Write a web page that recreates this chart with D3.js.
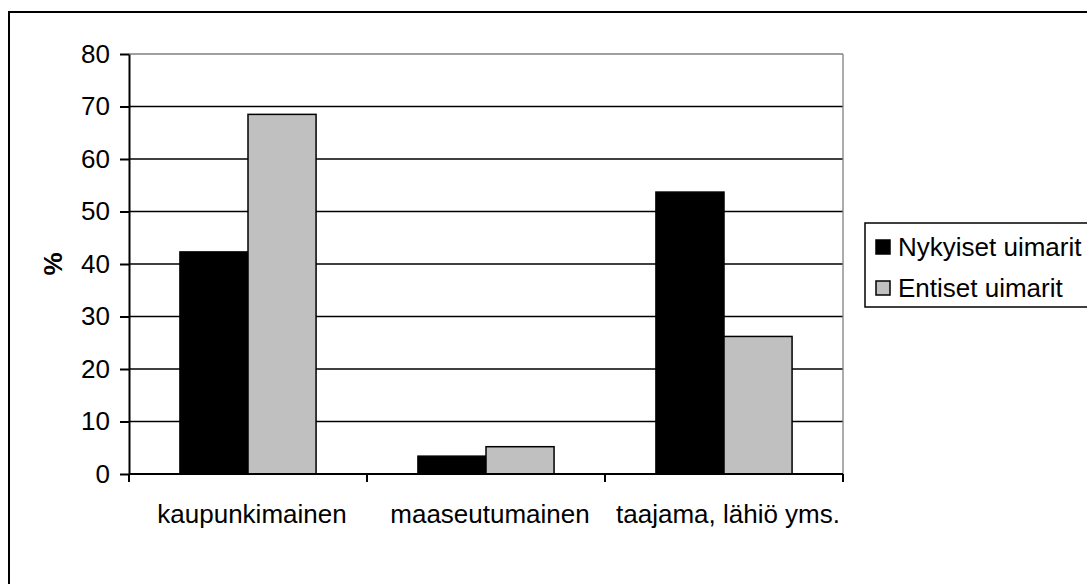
<!DOCTYPE html>
<html>
<head>
<meta charset="utf-8">
<script src="https://cdn.jsdelivr.net/npm/d3@7"></script>
<style>
  html, body { margin: 0; padding: 0; background: #fff; }
  svg { display: block; font-family: "Liberation Sans", Arial, sans-serif; }
</style>
</head>
<body>
<svg id="chart" width="1087" height="584"></svg>
<script>
// Area types and the share (%) of each group of swimmers
const categories = ["kaupunkimainen", "maaseutumainen", "taajama, lähiö yms."];
const seriesNames = ["Nykyiset uimarit", "Entiset uimarit"];
const nykyiset = [42.3, 3.4, 53.7];
const entiset = [68.5, 5.2, 26.2];
const yTicks = [0, 10, 20, 30, 40, 50, 60, 70, 80];
const seriesColors = ["#000000", "#c0c0c0"];

const series = [nykyiset, entiset];

const svg = d3.select("#chart");
const plot = { left: 129, right: 843, top: 54, bottom: 474 };
const fontSize = 26;

// Outer chart frame
svg.append("rect")
  .attr("x", 9).attr("y", 12)
  .attr("width", 1200).attr("height", 700)
  .attr("fill", "none").attr("stroke", "#000").attr("stroke-width", 2);

const x = d3.scaleBand()
  .domain(categories)
  .range([plot.left, plot.right])
  .paddingInner(0.428)
  .paddingOuter(0.214);

const xInner = d3.scaleBand()
  .domain(d3.range(series.length))
  .range([0, x.bandwidth()]);

const y = d3.scaleLinear()
  .domain([0, 80])
  .range([plot.bottom, plot.top]);

// Horizontal gridlines
svg.append("g")
  .selectAll("line")
  .data(yTicks.filter(t => t > 0))
  .join("line")
  .attr("x1", plot.left).attr("x2", plot.right)
  .attr("y1", d => y(d)).attr("y2", d => y(d))
  .attr("stroke", d => d === 80 ? "#808080" : "#000")
  .attr("stroke-width", 1.3);

// Right edge of the plot area
svg.append("line")
  .attr("x1", plot.right).attr("x2", plot.right)
  .attr("y1", plot.top).attr("y2", plot.bottom)
  .attr("stroke", "#808080").attr("stroke-width", 1.3);

// Bars
const groups = svg.append("g")
  .selectAll("g")
  .data(categories)
  .join("g")
  .attr("transform", d => `translate(${x(d)},0)`);

groups.selectAll("rect")
  .data((c, ci) => series.map((s, si) => ({ si, v: s[ci] })))
  .join("rect")
  .attr("x", d => xInner(d.si))
  .attr("width", xInner.bandwidth())
  .attr("y", d => y(d.v))
  .attr("height", d => y(0) - y(d.v))
  .attr("fill", d => seriesColors[d.si])
  .attr("stroke", "#000")
  .attr("stroke-width", 1.5);

// Y axis
const yAxis = svg.append("g")
  .attr("transform", `translate(${plot.left},0)`)
  .call(d3.axisLeft(y).tickValues(yTicks).tickSize(9).tickPadding(10).tickSizeOuter(0));
yAxis.select(".domain").attr("stroke", "#000").attr("stroke-width", 2);
yAxis.selectAll(".tick line").attr("stroke", "#000").attr("stroke-width", 2);
yAxis.selectAll(".tick text")
  .attr("font-size", fontSize)
  .attr("font-family", "Liberation Sans, Arial, sans-serif")
  .attr("fill", "#000");

// X axis with ticks between categories
const xAxisG = svg.append("g")
  .attr("transform", `translate(0,${plot.bottom})`);
xAxisG.append("line")
  .attr("x1", plot.left).attr("x2", plot.right)
  .attr("stroke", "#000").attr("stroke-width", 2);
const step = x.step();
xAxisG.selectAll("line.tick")
  .data(d3.range(categories.length + 1))
  .join("line")
  .attr("class", "tick")
  .attr("x1", i => plot.left + i * step)
  .attr("x2", i => plot.left + i * step)
  .attr("y1", 0).attr("y2", 8)
  .attr("stroke", "#000").attr("stroke-width", 2);
xAxisG.selectAll("text")
  .data(categories)
  .join("text")
  .attr("x", d => x(d) + x.bandwidth() / 2 + 4)
  .attr("y", 49)
  .attr("text-anchor", "middle")
  .attr("font-size", fontSize)
  .attr("fill", "#000")
  .text(d => d);

// Y axis title
svg.append("text")
  .attr("transform", `translate(62,${(plot.top + plot.bottom) / 2}) rotate(-90)`)
  .attr("text-anchor", "middle")
  .attr("font-size", fontSize)
  .attr("font-weight", "bold")
  .text("%");

// Legend
const legend = svg.append("g");
legend.append("rect")
  .attr("x", 865).attr("y", 223)
  .attr("width", 400).attr("height", 84)
  .attr("fill", "#fff").attr("stroke", "#000").attr("stroke-width", 1.5);
const rows = legend.selectAll("g.item")
  .data(seriesNames)
  .join("g")
  .attr("class", "item")
  .attr("transform", (d, i) => `translate(876,${247 + i * 41})`);
rows.append("rect")
  .attr("x", 0).attr("y", -7)
  .attr("width", 14).attr("height", 14)
  .attr("fill", (d, i) => seriesColors[i])
  .attr("stroke", "#000").attr("stroke-width", 1.5);
rows.append("text")
  .attr("x", 22).attr("y", 0)
  .attr("dy", "0.35em")
  .attr("font-size", fontSize)
  .attr("fill", "#000")
  .text(d => d);
</script>
</body>
</html>
